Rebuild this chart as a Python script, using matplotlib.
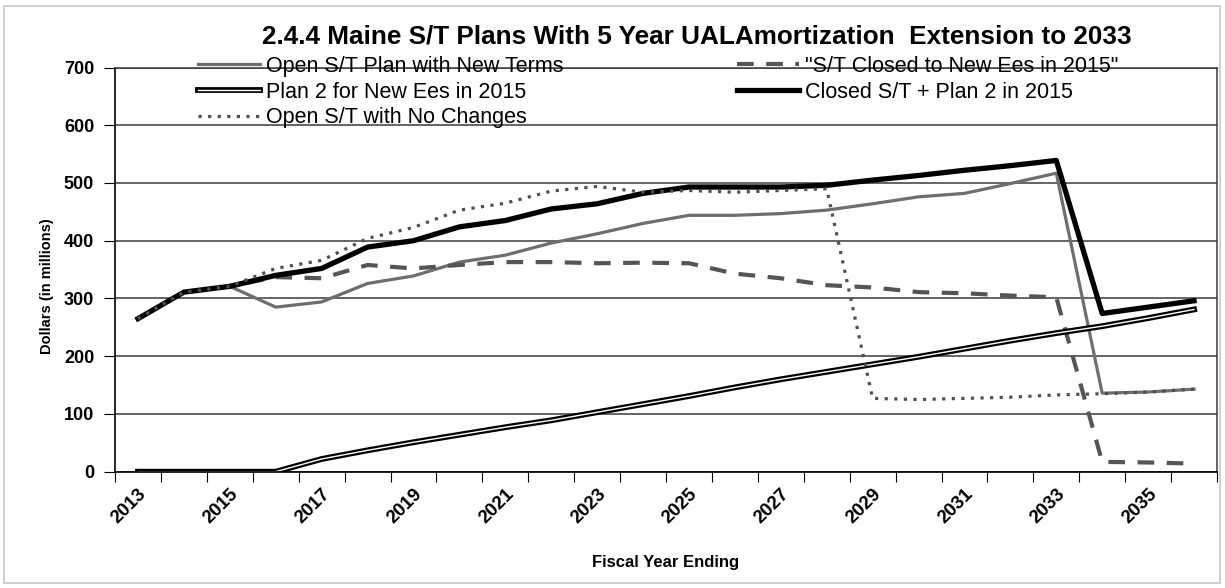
import numpy as np
import matplotlib
matplotlib.use('Agg')
import matplotlib.pyplot as plt
import matplotlib.patheffects as pe
from matplotlib.patches import Rectangle

plt.rcParams['font.family'] = ['Liberation Sans', 'DejaVu Sans']

years = list(range(2013, 2037))
open_new_terms = [265, 311, 321, 285, 294, 326, 339, 363, 375, 396, 412, 430,
                  444, 444, 447, 453, 464, 476, 482, 499, 517, 136, 138, 143]
closed_to_new = [265, 311, 321, 337, 335, 358, 352, 358, 363, 363, 361, 362,
                 361, 343, 335, 323, 319, 311, 309, 305, 302, 17, 16, 14]
plan2_new = [0, 0, 0, 0, 22, 37, 51, 64, 77, 89, 103, 117,
             131, 146, 160, 173, 186, 199, 213, 227, 240, 252, 266, 281]
closed_plus_plan2 = [265, 311, 321, 340, 352, 389, 400, 424, 435, 455, 464, 482,
                     493, 493, 493, 496, 505, 513, 522, 530, 539, 274, 285, 296]
open_no_changes = [265, 311, 321, 352, 366, 404, 423, 453, 465, 486, 494, 484,
                   487, 484, 487, 490, 127, 125, 127, 129, 133, 135, 138, 143]

labels = ['Open S/T Plan with New Terms', '"S/T Closed to New Ees in 2015"',
          'Plan 2 for New Ees in 2015', 'Closed S/T + Plan 2 in 2015',
          'Open S/T with No Changes']
title = '2.4.4 Maine S/T Plans With 5 Year UALAmortization  Extension to 2033'

W, H = 1225, 588
fig = plt.figure(figsize=(W / 100, H / 100), dpi=100)
fig.patches.append(Rectangle((4 / W, 5 / H), 1 - 9 / W, 1 - 11 / H,
                             transform=fig.transFigure, fill=False,
                             edgecolor='#c8c8c8', lw=1.2))

ax = fig.add_axes([115 / W, 1 - 471.7 / H, (1217 - 115) / W, (471.7 - 67.5) / H])
x = np.arange(len(years))

l0, = ax.plot(x, open_new_terms, color='#6e6e6e', lw=2.3)
l1, = ax.plot(x, closed_to_new, color='#555555', lw=3, linestyle=(0, (4, 3)))
l2, = ax.plot(x, plan2_new, color='white', lw=1.0,
              path_effects=[pe.Stroke(linewidth=4.2, foreground='black'), pe.Normal()])
l3, = ax.plot(x, closed_plus_plan2, color='black', lw=3.8)
l4, = ax.plot(x, open_no_changes, color='#505050', lw=2.3, linestyle=(0, (1, 2)))

ax.set_xlim(-0.5, 23.5)
ax.set_ylim(0, 700)
ax.set_yticks(range(0, 701, 100))
ax.yaxis.grid(True, color='#3a3a3a', lw=1.1)
ax.set_axisbelow(True)
for s in ['top', 'right']:
    ax.spines[s].set_color('#3a3a3a')
    ax.spines[s].set_linewidth(1.1)
ax.spines['left'].set_linewidth(1.2)
ax.spines['bottom'].set_linewidth(1.2)

ax.set_xticks(np.arange(-0.5, 24, 1))
ax.set_xticklabels([])
ax.tick_params(axis='x', which='major', length=7, direction='out')
ax.set_xticks(x[::2], minor=True)
ax.set_xticklabels([str(y) for y in years[::2]], minor=True, rotation=45,
                   ha='right', rotation_mode='anchor', fontweight='bold', fontsize=13.5)
ax.tick_params(axis='x', which='minor', length=0, pad=10)
ax.tick_params(axis='y', length=8, direction='out', pad=7, labelsize=13)
for t in ax.get_yticklabels():
    t.set_fontweight('bold')

ax.set_ylabel('Dollars (in millions)', fontsize=10.5, fontweight='bold')
ax.yaxis.set_label_coords(-0.055, 0.46)
ax.set_xlabel('Fiscal Year Ending', fontsize=12, fontweight='bold')
ax.xaxis.set_label_coords(0.5, -0.205)

fig.text(697 / W, 1 - 37 / H, title, ha='center', va='center',
         fontsize=18.8, fontweight='bold')

leg_kw = dict(loc='upper left', frameon=False, fontsize=15.5, handlelength=2.9,
              handletextpad=0.25, labelspacing=0.22, borderpad=0, borderaxespad=0)
fig.legend([l0, l2, l4], [labels[0], labels[2], labels[4]],
           bbox_to_anchor=(198 / W, 1 - 56 / H), **leg_kw)
fig.legend([l1, l3], [labels[1], labels[3]],
           bbox_to_anchor=(737 / W, 1 - 56 / H), **leg_kw)

fig.savefig('out.png', dpi=100)
